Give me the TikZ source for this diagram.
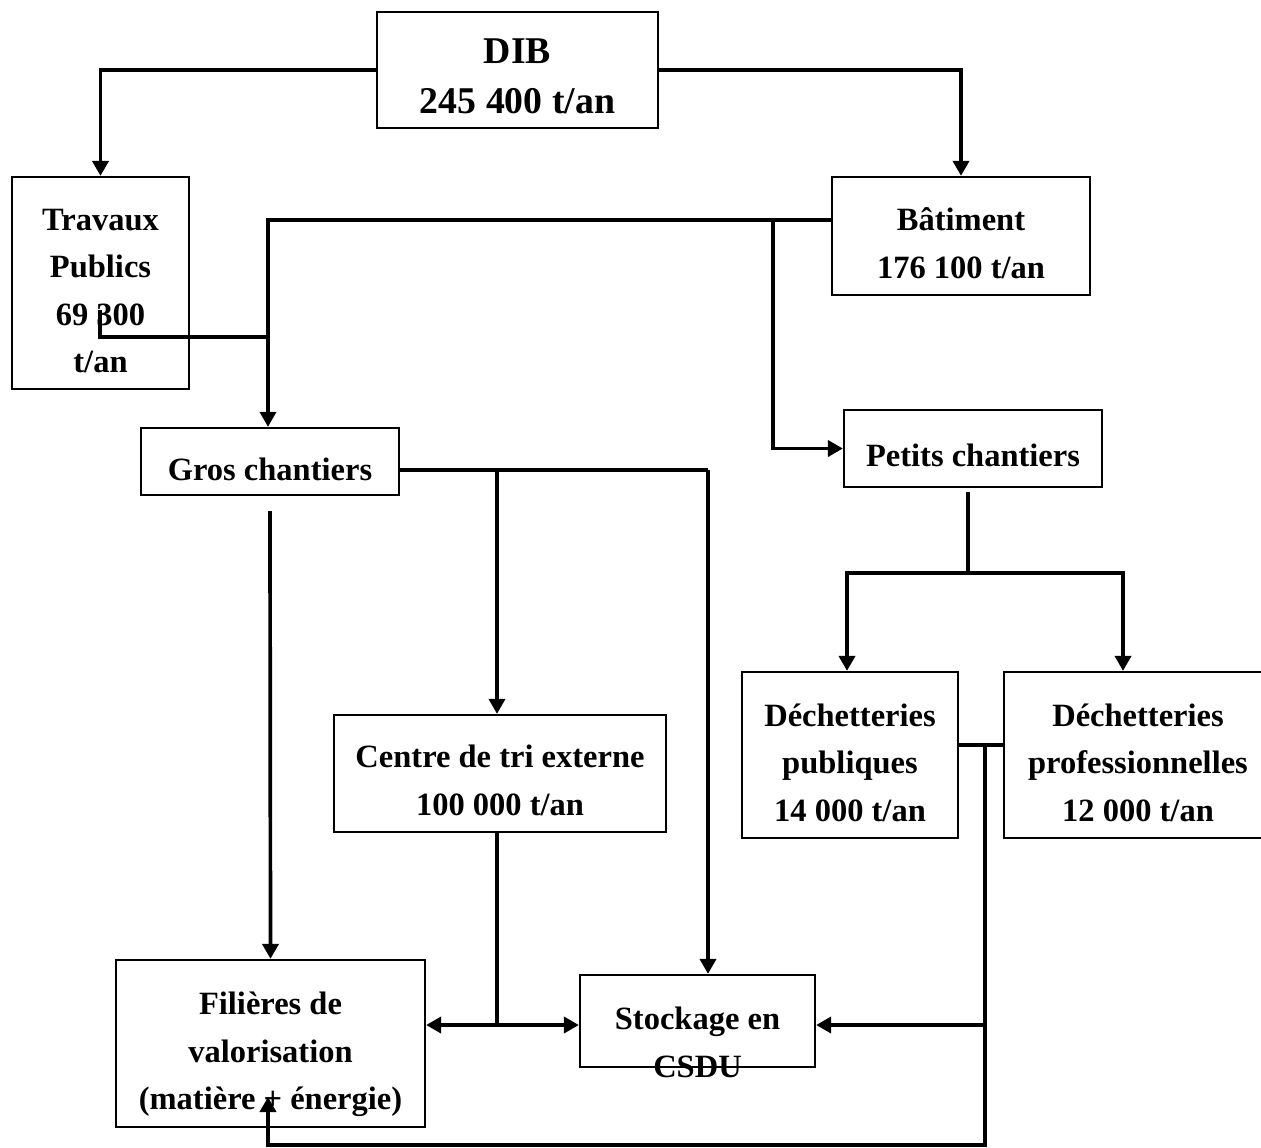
\documentclass[tikz,border=0pt]{standalone}
\usepackage{fontspec}
\setmainfont{Liberation Serif}
\usetikzlibrary{arrows.meta}

\begin{document}
\begin{tikzpicture}[line cap=butt,line join=miter,x=0.02cm,y=-0.02cm,
  box/.style={draw,line width=1.3pt,align=center,inner sep=0pt,text depth=0pt,
    font=\fontsize{18.5}{27}\selectfont\bfseries},
  ln/.style={line width=2.1pt},
  arr/.style={ln,-{Triangle[length=0.3cm,width=0.32cm]}}]
\useasboundingbox (0,0) rectangle (1261,1147);
\clip (0,0) rectangle (1261,1147);
% boxes
\node[box,minimum width=5.62cm,minimum height=2.32cm,text height=49pt,font=\fontsize{21.5}{28}\selectfont\bfseries] (dib) at (517.5,70) {DIB\\245 400 t/an};
\node[box,minimum width=3.54cm,minimum height=4.24cm,text height=102pt] (travaux) at (100.5,283) {Travaux\\Publics\\69 300\\t/an};
\node[box,minimum width=5.16cm,minimum height=2.36cm,text height=48pt] (bat) at (961,236) {Bâtiment\\176 100 t/an};
\node[box,minimum width=5.16cm,minimum height=1.34cm,text height=22pt] (gros) at (270,461.5) {Gros chantiers};
\node[box,minimum width=5.16cm,minimum height=1.54cm,text height=20pt] (petits) at (973,448.5) {Petits chantiers};
\node[box,minimum width=6.64cm,minimum height=2.34cm,text height=47.7pt] (centre) at (500,773.5) {Centre de tri externe\\100 000 t/an};
\node[box,minimum width=4.32cm,minimum height=3.32cm,text height=75.5pt] (dp) at (850,755) {Déchetteries\\publiques\\14 000 t/an};
\node[box,minimum width=5.36cm,minimum height=3.32cm,text height=75.5pt] (dpro) at (1138,755) {Déchetteries\\professionnelles\\12 000 t/an};
\node[box,minimum width=6.18cm,minimum height=3.34cm,text height=75.2pt] (fil) at (270.5,1043.5) {Filières de\\valorisation\\(matière + énergie)};
\node[box,minimum width=4.7cm,minimum height=1.84cm] (stock) at (697.5,1021)
  {\raisebox{-17.3pt}[0pt][0pt]{\begin{tabular}{@{}c@{}}Stockage en\\CSDU\end{tabular}}};
% junction points
\coordinate (tpin) at (100,310);
\coordinate (jg) at (268,337);
\coordinate (jb) at (268,220);
\coordinate (jp) at (773,220);
\coordinate (jc) at (497,470);
\coordinate (js) at (708,470);
\coordinate (jd) at (968,573);
\coordinate (dl) at (847,573);
\coordinate (dr) at (1123,573);
\coordinate (jv) at (985,745);
\coordinate (jl) at (985,1025);
\coordinate (jf) at (497,1025);
\coordinate (bot) at (985,1145);
\coordinate (fin) at (268,1097);
% connectors
\draw[arr] (dib.west) -| (travaux.north);
\draw[arr] (dib.east) -| (bat.north);
\draw[arr] (bat.west |- jb) -- (jb) -- (jb |- gros.north);
\draw[ln] (tpin) |- (jg);
\draw[arr] (jp) |- (petits.west);
\draw[ln] (gros.east |- jc) -- (js);
\draw[arr] (js) -- (js |- stock.north);
\draw[arr] (jc) -- (jc |- centre.north);
\draw[arr] ([yshift=-0.3cm]gros.south) -- (fil.north);
\draw[ln] ([yshift=-2pt]petits.south -| jd) -- (jd);
\draw[arr] (jd) -- (dl) -- (dl |- dp.north);
\draw[arr] (jd) -- (dr) -- (dr |- dpro.north);
\draw[ln] (dp.east |- jv) -- (dpro.west |- jv);
\draw[arr] (jv) -- (bot) -| (fin);
\draw[arr] (jl) -- (jl -| stock.east);
\draw[ln] (centre.south -| jf) -- (jf);
\draw[arr] (jf) -- (jf -| fil.east);
\draw[arr] (jf) -- (jf -| stock.west);
\end{tikzpicture}
\end{document}
